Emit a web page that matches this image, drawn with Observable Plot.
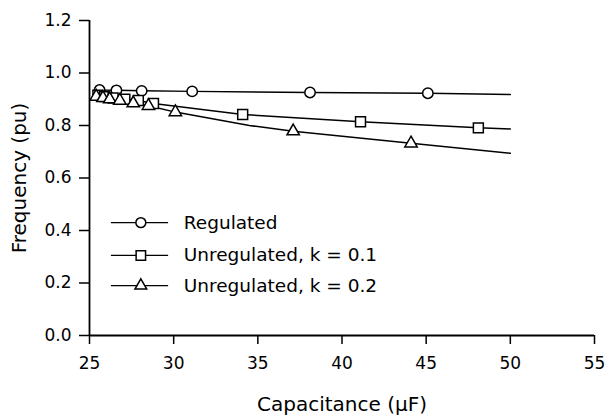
<!DOCTYPE html>
<html>
<head>
<meta charset="utf-8">
<script src="https://cdn.jsdelivr.net/npm/d3@7"></script>
<script src="https://cdn.jsdelivr.net/npm/@observablehq/plot@0.6"></script>
<style>
  html, body { margin: 0; padding: 0; background: #fff; }
  #chart svg { display: block; }
</style>
</head>
<body>
<div id="chart"></div>
<script>
// ---- data ----
const seriesNames = ["Regulated", "Unregulated, k = 0.1", "Unregulated, k = 0.2"];
const seriesSymbols = ["circle", "square", "triangle"];

// marker points
const regC = [25.6, 26.6, 28.1, 31.1, 38.1, 45.1];
const regF = [0.935, 0.934, 0.932, 0.930, 0.926, 0.923];
const un1C = [25.5, 25.9, 26.4, 27.1, 27.9, 28.8, 34.1, 41.1, 48.1];
const un1F = [0.915, 0.910, 0.905, 0.900, 0.895, 0.884, 0.842, 0.814, 0.791];
const un2C = [25.4, 25.8, 26.2, 26.8, 27.6, 28.5, 30.1, 37.1, 44.1];
const un2F = [0.910, 0.905, 0.900, 0.895, 0.885, 0.875, 0.851, 0.778, 0.732];

// curve points (lines run from the axis to 50 µF)
const regLineC = [25.3, 25.6, 26.6, 28.1, 31.1, 38.1, 45.1, 50];
const regLineF = [0.936, 0.935, 0.934, 0.932, 0.930, 0.926, 0.923, 0.918];
const un1LineC = [25.3, 25.5, 25.9, 26.4, 27.1, 27.9, 28.8, 34.1, 41.1, 48.1, 50];
const un1LineF = [0.917, 0.915, 0.910, 0.905, 0.900, 0.895, 0.884, 0.842, 0.814, 0.791, 0.787];
const un2LineC = [25.3, 25.4, 25.8, 26.2, 26.8, 27.6, 28.5, 30.1, 34.5, 37.1, 44.1, 50];
const un2LineF = [0.912, 0.910, 0.905, 0.900, 0.895, 0.885, 0.875, 0.851, 0.800, 0.778, 0.732, 0.694];

const xTicks = [25, 30, 35, 40, 45, 50, 55];
const yTicks = [0.0, 0.2, 0.4, 0.6, 0.8, 1.0, 1.2];
const xLabel = "Capacitance (\u03bcF)";
const yLabel = "Frequency (pu)";

// ---- build tables ----
const pts = (C, F, s) => C.map((c, i) => ({c, f: F[i], s}));
const markers = [
  ...pts(regC, regF, 0), ...pts(un1C, un1F, 1), ...pts(un2C, un2F, 2)
];
const curves = [
  ...pts(regLineC, regLineF, 0), ...pts(un1LineC, un1LineF, 1), ...pts(un2LineC, un2LineF, 2)
];

// legend rows (placed in data units inside the plot)
const legendRowY = [0.430, 0.305, 0.190];
const legend = seriesNames.map((name, i) => ({name, i, y: legendRowY[i]}));
const legLineX1 = 26.3, legLineX2 = 29.7, legMarkX = 28.05, legTextX = 30.6;

const FONT = "'DejaVu Sans', Verdana, sans-serif";
const symbolR = [5.2, 5.6, 4.6];

const chart = Plot.plot({
  width: 606,
  height: 420,
  marginLeft: 89,
  marginRight: 12,
  marginTop: 20,
  marginBottom: 85,
  style: {fontFamily: FONT, background: "#fff", color: "#000"},
  x: {domain: [25, 55]},
  y: {domain: [0, 1.2]},
  marks: [
    Plot.axisX({ticks: xTicks, tickSize: 9, tickPadding: 12, fontSize: 17, stroke: "#000", strokeWidth: 1.5,
      label: xLabel, labelAnchor: "center", labelOffset: 75, labelArrow: "none"}),
    Plot.axisY({ticks: yTicks, tickFormat: d3.format(".1f"), tickSize: 10, tickPadding: 8, fontSize: 17, stroke: "#000", strokeWidth: 1.5,
      label: yLabel, labelAnchor: "center", labelOffset: 78, labelArrow: "none"}),
    Plot.ruleX([25], {y1: 0, y2: 1.2, stroke: "#000", strokeWidth: 1.8}),
    Plot.ruleY([0], {x1: 25, x2: 55, stroke: "#000", strokeWidth: 1.8}),
    Plot.line(curves, {x: "c", y: "f", z: "s", stroke: "#000", strokeWidth: 1.5}),
    ...[0, 1, 2].map(k => Plot.dot(markers.filter(d => d.s === k), {
      x: "c", y: "f", symbol: seriesSymbols[k], r: symbolR[k], fill: "#fff", stroke: "#000", strokeWidth: 1.5
    })),
    // legend
    Plot.ruleY(legend, {y: "y", x1: legLineX1, x2: legLineX2, stroke: "#000", strokeWidth: 1.3}),
    ...[0, 1, 2].map(k => Plot.dot([legend[k]], {
      x: legMarkX, y: "y", symbol: seriesSymbols[k], r: symbolR[k] * 0.95, fill: "#fff", stroke: "#000", strokeWidth: 1.5
    })),
    Plot.text(legend, {x: legTextX, y: "y", text: "name", textAnchor: "start", fontSize: 18.5, fill: "#000"})
  ]
});

// style axis labels
chart.querySelectorAll("[aria-label='x-axis label'] text, [aria-label='y-axis label'] text").forEach(t => {
  t.setAttribute("font-size", "20");
});
document.getElementById("chart").appendChild(chart);
</script>
</body>
</html>
